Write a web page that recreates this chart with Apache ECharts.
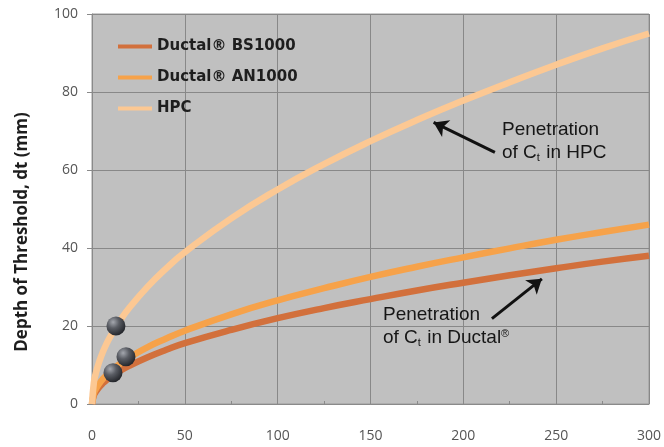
<!DOCTYPE html>
<html>
<head>
<meta charset="utf-8">
<script src="https://cdn.jsdelivr.net/npm/echarts@6/dist/echarts.min.js"></script>
<style>html,body{margin:0;padding:0;background:#fff}#c{width:664px;height:447px}</style>
</head>
<body>
<div id="c"></div>
<script>
// Time axis samples
var xs = [0, 1, 2, 4, 6, 8, 10, 15, 20, 30, 40, 50, 75, 100, 125, 150, 175, 200, 225, 250, 275, 300];
var bs1000 = [0, 2.2, 3.1, 4.4, 5.4, 6.2, 7.0, 8.5, 9.8, 12.0, 13.9, 15.6, 19.0, 22.0, 24.6, 26.9, 29.1, 31.1, 33.0, 34.8, 36.5, 38.0];
var an1000 = [0, 2.7, 3.8, 5.3, 6.5, 7.5, 8.4, 10.3, 11.9, 14.6, 16.8, 18.8, 23.0, 26.6, 29.7, 32.6, 35.2, 37.6, 39.9, 42.1, 44.1, 46.0];
var hpc    = [0, 5.5, 7.8, 11.0, 13.5, 15.6, 17.4, 21.3, 24.6, 30.1, 34.8, 38.9, 47.6, 55.0, 61.5, 67.4, 72.8, 77.8, 82.5, 87.0, 91.2, 95.0];
var balls = [[12.9, 20.0], [18.3, 12.1], [11.3, 8.0]];
var arrowHPC = [[217, 64.5], [184, 72.2]];
var arrowDuctal = [[215.4, 21.9], [242.3, 32.1]];
var seriesNames = ['Ductal® BS1000', 'Ductal® AN1000', 'HPC'];
var yTitle = 'Depth of Threshold, dt (mm)';
var xTicks = [0, 50, 100, 150, 200, 250, 300];
var yTicks = [0, 20, 40, 60, 80, 100];

function pairs(vals){ return xs.map(function(x,i){ return [x, vals[i]]; }); }

var chart = echarts.init(document.getElementById('c'));
var ballColor = new echarts.graphic.RadialGradient(0.35, 0.3, 0.7, [
  {offset: 0, color: '#a4a7ae'}, {offset: 0.45, color: '#5a5d64'}, {offset: 1, color: '#26282d'}
]);
var F = 'Liberation Sans';
var annStyle = {
  fontFamily: F, fontSize: 19, fill: '#161616', lineHeight: 23,
  rich: {
    n: {fontFamily: F, fontSize: 19, fill: '#161616', color: '#161616', lineHeight: 23},
    s: {fontFamily: F, fontSize: 11, fill: '#161616', color: '#161616', lineHeight: 23, padding: [11, 1, 0, 0]},
    r: {fontFamily: F, fontSize: 11, fill: '#161616', color: '#161616', lineHeight: 23, padding: [0, 0, 8, 0]}
  }
};
chart.setOption({
  animation: false,
  backgroundColor: '#ffffff',
  grid: {left: 92, right: 15, top: 14, bottom: 43, show: true, backgroundColor: '#c0c0c0', borderColor: '#9a9a9a', borderWidth: 1},
  legend: {
    data: seriesNames, orient: 'vertical', left: 113, top: 34, itemGap: 16,
    icon: 'rect', itemWidth: 34, itemHeight: 4,
    textStyle: {fontFamily: 'DejaVu Sans', fontWeight: 'bold', fontSize: 15, color: '#1e1e1e'}
  },
  xAxis: {
    type: 'value', min: 0, max: 300, interval: 50,
    axisLine: {show: true, lineStyle: {color: '#8a8a8a'}},
    axisTick: {show: true, inside: true, length: 4, lineStyle: {color: '#8a8a8a'}},
    minorTick: {show: true, splitNumber: 2, length: 3, lineStyle: {color: '#8a8a8a'}},
    splitLine: {show: true, lineStyle: {color: '#888888', width: 1}},
    axisLabel: {margin: 25, fontFamily: 'Open Sans', fontSize: 14, color: '#555555',
      formatter: function(v){ return xTicks.indexOf(v) >= 0 ? String(v) : ''; }}
  },
  yAxis: {
    type: 'value', min: 0, max: 100, interval: 20,
    axisLine: {show: true, lineStyle: {color: '#8a8a8a'}},
    axisTick: {show: true, length: 5, lineStyle: {color: '#8a8a8a'}},
    splitLine: {show: true, lineStyle: {color: '#888888', width: 1}},
    axisLabel: {margin: 14, fontFamily: 'Open Sans', fontSize: 14, color: '#555555',
      formatter: function(v){ return yTicks.indexOf(v) >= 0 ? String(v) : ''; }}
  },
  series: [
    {name: seriesNames[0], type: 'line', smooth: true, showSymbol: false, symbol: 'none', z: 3,
     data: pairs(bs1000), lineStyle: {color: '#d2703c', width: 6.5}, itemStyle: {color: '#d2703c'}},
    {name: seriesNames[1], type: 'line', smooth: true, showSymbol: false, symbol: 'none', z: 3,
     data: pairs(an1000), lineStyle: {color: '#f6a24a', width: 6.5}, itemStyle: {color: '#f6a24a'}},
    {name: seriesNames[2], type: 'line', smooth: true, showSymbol: false, symbol: 'none', z: 3,
     data: pairs(hpc), lineStyle: {color: '#fcc893', width: 6.5}, itemStyle: {color: '#fcc893'}},
    {name: 'markers', type: 'scatter', data: balls, symbolSize: 19, z: 5, silent: true,
     itemStyle: {color: ballColor, opacity: 1},
     markLine: {
       silent: true, animation: false, symbol: ['none', 'arrow'], symbolSize: 14,
       lineStyle: {color: '#111111', width: 3, type: 'solid'},
       label: {show: false},
       data: [
         [{coord: arrowHPC[0]}, {coord: arrowHPC[1]}],
         [{coord: arrowDuctal[0]}, {coord: arrowDuctal[1]}]
       ]
     }}
  ],
  graphic: [
    {type: 'text', x: 22, y: 232, rotation: Math.PI / 2, z: 10,
     style: {text: yTitle, fontFamily: 'Open Sans', fontWeight: 'bold', fontSize: 17, fill: '#1e1e1e', align: 'center', verticalAlign: 'middle'}},
    {type: 'text', left: 502, top: 118, z: 10, style: Object.assign({}, annStyle, {text: '{n|Penetration}\n{n|of C}{s|t}{n| in HPC}'})},
    {type: 'text', left: 383, top: 303, z: 10, style: Object.assign({}, annStyle, {text: '{n|Penetration}\n{n|of C}{s|t}{n| in Ductal}{r|®}'})}
  ]
});
</script>
</body>
</html>
